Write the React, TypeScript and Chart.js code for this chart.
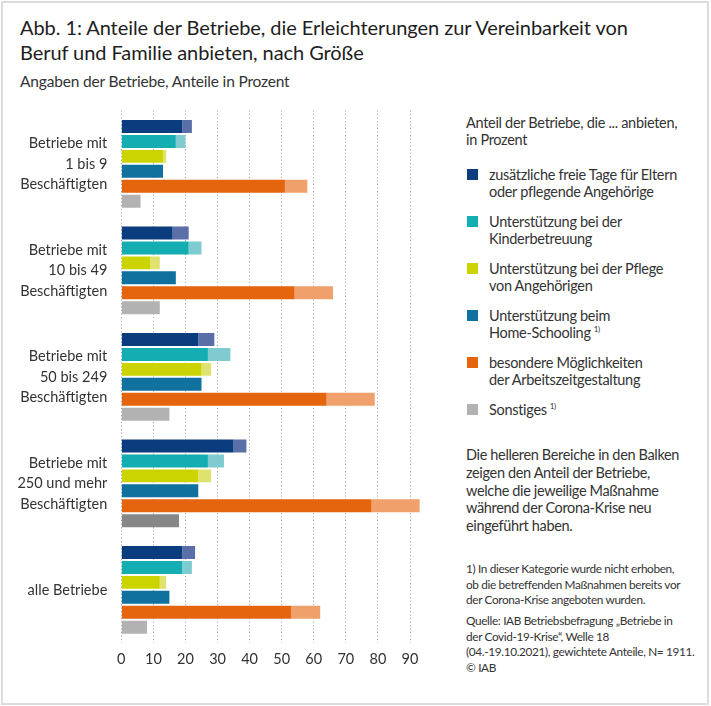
import React, { useEffect, useRef } from "react";
import { Chart, registerables } from "chart.js";

Chart.register(...registerables);

// ---------- data ----------
const CATEGORIES: (string | string[])[] = [
  ["Betriebe mit", "1 bis 9", "Beschäftigten"],
  ["Betriebe mit", "10 bis 49", "Beschäftigten"],
  ["Betriebe mit", "50 bis 249", "Beschäftigten"],
  ["Betriebe mit", "250 und mehr", "Beschäftigten"],
  "alle Betriebe",
];

const FREIE_TAGE_VORHER = [19, 16, 24, 35, 19];
const FREIE_TAGE_NEU = [3, 5, 5, 4, 4];
const KINDER_VORHER = [17, 21, 27, 27, 19];
const KINDER_NEU = [3, 4, 7, 5, 3];
const PFLEGE_VORHER = [13, 9, 25, 24, 12];
const PFLEGE_NEU = [1, 3, 3, 4, 2];
const HOMESCHOOLING = [13, 17, 25, 24, 15];
const ARBEITSZEIT_VORHER = [51, 54, 64, 78, 53];
const ARBEITSZEIT_NEU = [7, 12, 15, 15, 9];
const SONSTIGES = [6, 12, 15, 18, 8];

const X_TICKS = [0, 10, 20, 30, 40, 50, 60, 70, 80, 90];

const SERIES_LABELS: string[][] = [
  ["zusätzliche freie Tage für Eltern", "oder pflegende Angehörige"],
  ["Unterstützung bei der", "Kinderbetreuung"],
  ["Unterstützung bei der Pflege", "von Angehörigen"],
  ["Unterstützung beim", "Home-Schooling"],
  ["besondere Möglichkeiten", "der Arbeitszeitgestaltung"],
  ["Sonstiges"],
];
const SERIES_FOOTNOTE = [false, false, false, true, false, true];

const TITLE_LINES = [
  "Abb. 1: Anteile der Betriebe, die Erleichterungen zur Vereinbarkeit von",
  "Beruf und Familie anbieten, nach Größe",
];
const SUBTITLE = "Angaben der Betriebe, Anteile in Prozent";
const LEGEND_TITLE = ["Anteil der Betriebe, die ... anbieten,", "in Prozent"];
const NOTE_LINES = [
  "Die helleren Bereiche in den Balken",
  "zeigen den Anteil der Betriebe,",
  "welche die jeweilige Maßnahme",
  "während der Corona-Krise neu",
  "eingeführt haben.",
];
const FOOTNOTE_LINES = [
  "1) In dieser Kategorie wurde nicht erhoben,",
  "ob die betreffenden Maßnahmen bereits vor",
  "der Corona-Krise angeboten wurden.",
];
const SOURCE_LINES = [
  "Quelle: IAB Betriebsbefragung „Betriebe in",
  "der Covid-19-Krise“, Welle 18",
  "(04.-19.10.2021), gewichtete Anteile, N= 1911.",
  "© IAB",
];

// ---------- styles ----------
const BASE_COLORS = ["#0b3d7e", "#14aeb2", "#cbd400", "#10719f", "#e5650f", "#b2b2b2"];
const LIGHT_COLORS = ["#5a6ea8", "#7fcbcf", "#dfe26c", "", "#f0a06a", ""];
const SONSTIGES_COLORS = ["#b2b2b2", "#b2b2b2", "#b2b2b2", "#878787", "#b2b2b2"];
const FONT = "Lato, 'Open Sans', sans-serif";
const TEXT = "#333333";

function BarChart() {
  const ref = useRef<HTMLCanvasElement | null>(null);
  useEffect(() => {
    let chart: Chart | null = null;
    let cancelled = false;
    const make = () => {
      if (cancelled || !ref.current) return;
      chart = new Chart(ref.current, {
        type: "bar",
        data: {
          labels: CATEGORIES as any,
          datasets: [
            { data: FREIE_TAGE_VORHER, backgroundColor: BASE_COLORS[0], stack: "a" },
            { data: FREIE_TAGE_NEU, backgroundColor: LIGHT_COLORS[0], stack: "a" },
            { data: KINDER_VORHER, backgroundColor: BASE_COLORS[1], stack: "b" },
            { data: KINDER_NEU, backgroundColor: LIGHT_COLORS[1], stack: "b" },
            { data: PFLEGE_VORHER, backgroundColor: BASE_COLORS[2], stack: "c" },
            { data: PFLEGE_NEU, backgroundColor: LIGHT_COLORS[2], stack: "c" },
            { data: HOMESCHOOLING, backgroundColor: BASE_COLORS[3], stack: "d" },
            { data: ARBEITSZEIT_VORHER, backgroundColor: BASE_COLORS[4], stack: "e" },
            { data: ARBEITSZEIT_NEU, backgroundColor: LIGHT_COLORS[4], stack: "e" },
            { data: SONSTIGES, backgroundColor: SONSTIGES_COLORS, stack: "f" },
          ] as any,
        },
        options: {
          indexAxis: "y",
          animation: false,
          responsive: false,
          maintainAspectRatio: false,
          events: [],
          layout: { padding: { left: 0, top: 10.6, right: 17.9, bottom: 4.5 } },
          datasets: {
            bar: { categoryPercentage: 0.8427, barPercentage: 0.8667, borderWidth: 0 },
          } as any,
          plugins: { legend: { display: false }, tooltip: { enabled: false } },
          scales: {
            x: {
              type: "linear",
              stacked: true,
              min: 0,
              max: 100,
              afterBuildTicks: (s: any) => {
                s.ticks = X_TICKS.map((v) => ({ value: v }));
              },
              afterFit: (s: any) => {
                s.paddingLeft = 0;
                s.paddingRight = 0;
              },
              grid: { color: "#9c9c9c", lineWidth: 1, drawTicks: false },
              border: { display: false, dash: [1, 2.5] },
              ticks: {
                color: TEXT,
                padding: 7.5,
                font: { family: FONT, size: 14.5 },
              },
            },
            y: {
              type: "category",
              stacked: true,
              grid: { display: false, drawTicks: false },
              border: { display: false },
              afterFit: (s: any) => {
                s.width = 121.3;
                s.paddingTop = 0;
                s.paddingBottom = 0;
              },
              ticks: {
                color: TEXT,
                padding: 14,
                font: { family: FONT, size: 14.5, lineHeight: 1.414 },
              },
            },
          },
        } as any,
      });
    };
    const fontsApi = (document as any).fonts;
    if (fontsApi && fontsApi.load) {
      fontsApi.load("14.5px Lato").then(make, make);
    } else {
      make();
    }
    return () => {
      cancelled = true;
      if (chart) chart.destroy();
    };
  }, []);
  return (
    <canvas
      ref={ref}
      width={460}
      height={580}
      style={{ position: "absolute", left: 0, top: 100, width: 460, height: 580 }}
    />
  );
}

export default function App() {
  const abs = (o: React.CSSProperties): React.CSSProperties => ({ position: "absolute", ...o });
  return (
    <div
      style={{
        position: "absolute",
        left: 0,
        top: 0,
        width: 711,
        height: 706,
        background: "#ffffff",
        fontFamily: FONT,
        color: TEXT,
        overflow: "hidden",
      }}
    >
      <div
        style={abs({
          left: 1,
          top: 1,
          width: 708,
          height: 704,
          boxSizing: "border-box",
          border: "2px solid #dcdcdc",
        })}
      />
      <div
        style={abs({
          left: 20,
          top: 15,
          fontSize: 20,
          lineHeight: "25px",
          letterSpacing: "-0.07px",
          color: "#1e1e1e",
          whiteSpace: "nowrap",
        })}
      >
        {TITLE_LINES.map((l, i) => (
          <div key={i}>{l}</div>
        ))}
      </div>
      <div
        style={abs({ left: 20, top: 71, fontSize: 15.5, lineHeight: "20px", letterSpacing: "-0.17px", whiteSpace: "nowrap" })}
      >
        {SUBTITLE}
      </div>

      <BarChart />

      <div
        style={abs({ left: 466, top: 113.5, fontSize: 14.5, lineHeight: "17px", letterSpacing: "-0.3px", whiteSpace: "nowrap" })}
      >
        {LEGEND_TITLE.map((l, i) => (
          <div key={i}>{l}</div>
        ))}
      </div>
      {SERIES_LABELS.map((lines, i) => {
        const c = 174 + i * 47;
        return (
          <React.Fragment key={i}>
            <div style={abs({ left: 466.5, top: c - 5.5, width: 11, height: 11, background: BASE_COLORS[i] })} />
            <div
              style={abs({
                left: 489,
                top: c - 8.5,
                fontSize: 14.5,
                lineHeight: "17px",
                letterSpacing: "-0.3px",
                whiteSpace: "nowrap",
              })}
            >
              {lines.map((l, j) => (
                <div key={j}>
                  {l}
                  {SERIES_FOOTNOTE[i] && j === lines.length - 1 ? (
                    <span style={{ fontSize: 8, position: "relative", top: -6, marginLeft: 3 }}>1)</span>
                  ) : null}
                </div>
              ))}
            </div>
          </React.Fragment>
        );
      })}

      <div
        style={abs({ left: 466, top: 446, fontSize: 14.5, lineHeight: "17.8px", letterSpacing: "-0.35px", whiteSpace: "nowrap" })}
      >
        {NOTE_LINES.map((l, i) => (
          <div key={i}>{l}</div>
        ))}
      </div>
      <div
        style={abs({ left: 466, top: 561.3, fontSize: 11.8, lineHeight: "15.5px", letterSpacing: "-0.35px", whiteSpace: "nowrap" })}
      >
        {FOOTNOTE_LINES.map((l, i) => (
          <div key={i}>{l}</div>
        ))}
      </div>
      <div
        style={abs({ left: 466, top: 613.3, fontSize: 11.8, lineHeight: "15.5px", letterSpacing: "-0.35px", whiteSpace: "nowrap" })}
      >
        {SOURCE_LINES.map((l, i) => (
          <div key={i}>{l}</div>
        ))}
      </div>
    </div>
  );
}
